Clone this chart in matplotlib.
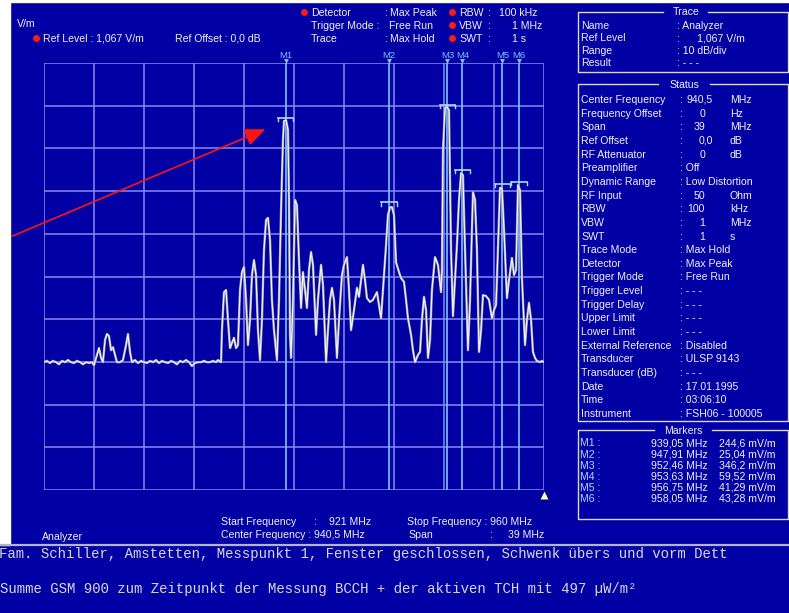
import numpy as np
import matplotlib
matplotlib.use("Agg")
import matplotlib.pyplot as plt
from matplotlib.patches import Rectangle

plt.rcParams['font.family'] = ['Liberation Sans', 'DejaVu Sans']

# spectrum trace, MHz / dB(V/m)
freq_mhz = [
    921.00, 921.23, 921.47, 921.70, 921.94, 922.17, 922.40, 922.64, 922.87, 923.11,
    923.34, 923.57, 923.81, 924.04, 924.28, 924.51, 924.74, 924.90, 925.13, 925.29,
    925.45, 925.60, 925.76, 925.91, 926.07, 926.23, 926.38, 926.54, 926.69, 926.93,
    927.16, 927.40, 927.55, 927.71, 927.86, 928.10, 928.33, 928.57, 928.80, 929.03,
    929.27, 929.50, 929.74, 929.97, 930.20, 930.44, 930.67, 930.91, 931.14, 931.37,
    931.61, 931.84, 932.08, 932.31, 932.54, 932.78, 933.01, 933.25, 933.48, 933.71,
    933.95, 934.18, 934.42, 934.57, 934.81, 934.88, 935.04, 935.20, 935.35, 935.51,
    935.66, 935.82, 935.98, 936.13, 936.29, 936.44, 936.60, 936.76, 936.91, 937.07,
    937.22, 937.38, 937.54, 937.69, 937.85, 938.00, 938.16, 938.32, 938.47, 938.63,
    938.78, 938.94, 939.10, 939.17, 939.33, 939.49, 939.64, 939.72, 939.88, 940.03,
    940.11, 940.19, 940.27, 940.42, 940.58, 940.73, 940.89, 941.05, 941.20, 941.36,
    941.51, 941.67, 941.83, 941.98, 942.22, 942.37, 942.61, 942.76, 943.00, 943.15,
    943.31, 943.46, 943.62, 943.85, 944.01, 944.24, 944.40, 944.63, 944.79, 944.95,
    945.18, 945.41, 945.57, 945.73, 945.88, 946.04, 946.19, 946.43, 946.66, 946.97,
    947.13, 947.29, 947.44, 947.68, 947.83, 947.99, 948.14, 948.30, 948.46, 948.69,
    948.85, 949.08, 949.24, 949.39, 949.63, 949.78, 949.94, 950.17, 950.33, 950.48,
    950.64, 950.80, 950.95, 951.11, 951.26, 951.50, 951.73, 951.97, 952.04, 952.12,
    952.28, 952.43, 952.59, 952.75, 952.90, 953.06, 953.21, 953.37, 953.53, 953.68,
    953.84, 954.07, 954.23, 954.46, 954.62, 954.77, 954.93, 955.09, 955.24, 955.48,
    955.71, 955.94, 956.10, 956.26, 956.41, 956.57, 956.72, 956.88, 957.11, 957.27,
    957.50, 957.66, 957.82, 957.97, 958.13, 958.28, 958.52, 958.67, 958.83, 958.99,
    959.14, 959.30, 959.45, 959.69, 959.84, 960.00,
]
level_dbv = [
    -69.5, -69.2, -69.7, -69.2, -69.5, -70.0, -69.2, -69.5, -69.0, -69.5,
    -69.7, -69.2, -69.5, -70.0, -69.5, -69.7, -69.5, -70.2, -67.8, -66.2,
    -68.5, -69.5, -64.3, -62.9, -63.4, -66.7, -66.0, -67.8, -69.5, -69.5,
    -69.0, -65.5, -62.9, -67.1, -69.5, -69.0, -69.7, -69.2, -69.5, -69.7,
    -69.2, -69.5, -69.0, -69.7, -69.2, -69.5, -69.7, -69.2, -69.5, -70.0,
    -69.2, -69.5, -69.0, -69.5, -70.4, -69.7, -69.5, -69.5, -69.2, -69.5,
    -69.5, -69.2, -69.5, -69.0, -69.5, -62.0, -53.1, -52.6, -59.6, -66.2,
    -65.0, -63.8, -66.2, -65.5, -52.6, -48.4, -47.2, -54.9, -65.5, -59.6,
    -49.1, -45.6, -49.1, -62.0, -69.0, -59.6, -43.2, -36.2, -35.7, -40.9,
    -54.9, -62.0, -66.7, -69.0, -54.9, -33.9, -17.5, -13.0, -12.8, -15.1,
    -31.5, -63.1, -68.5, -54.9, -31.5, -32.7, -45.6, -56.8, -48.4, -52.6,
    -56.8, -47.9, -43.7, -46.7, -63.1, -54.9, -46.7, -51.4, -69.5, -62.0,
    -54.9, -52.1, -54.9, -68.5, -59.6, -49.1, -46.7, -44.9, -52.6, -62.0,
    -57.3, -52.1, -54.2, -50.3, -46.7, -50.3, -54.5, -55.4, -54.9, -53.1,
    -56.1, -59.2, -52.6, -42.1, -35.0, -33.2, -33.2, -35.0, -46.1, -48.4,
    -49.8, -50.7, -54.9, -59.2, -63.1, -66.7, -69.5, -67.8, -67.1, -59.6,
    -54.2, -57.3, -68.5, -64.3, -52.6, -44.9, -46.7, -53.1, -47.9, -19.8,
    -10.0, -9.7, -10.5, -43.2, -58.7, -50.3, -42.1, -31.5, -25.2, -25.7,
    -43.2, -66.7, -54.9, -29.7, -31.5, -43.2, -67.1, -62.0, -53.8, -54.0,
    -54.9, -59.2, -57.3, -56.1, -43.2, -28.7, -28.7, -38.5, -54.5, -50.3,
    -45.1, -49.1, -47.9, -28.0, -29.2, -49.8, -65.5, -59.6, -55.6, -59.6,
    -67.1, -68.5, -69.2, -69.5, -69.2, -69.5,
]

marker_names = ["M1", "M2", "M3", "M4", "M5", "M6"]
marker_freq = [939.85, 947.91, 952.46, 953.63, 956.75, 958.05]
marker_freq_text = ["939,05 MHz", "947,91 MHz", "952,46 MHz", "953,63 MHz", "956,75 MHz", "958,05 MHz"]
marker_mvm = [244.6, 25.04, 346.2, 59.52, 41.29, 43.28]
marker_level_text = ["244,6 mV/m", "25,04 mV/m", "346,2 mV/m", "59,52 mV/m", "41,29 mV/m", "43,28 mV/m"]

ref_level_vm = 1.067
start_mhz, stop_mhz = 921.0, 960.0

trace_rows = [("Name", ": Analyzer"), ("Ref Level", ":      1,067 V/m"),
              ("Range", ": 10 dB/div"), ("Result", ": - - -")]
status_rows = [
    ("Center Frequency", "940,5", "MHz"), ("Frequency Offset", "0", "Hz"),
    ("Span", "39", "MHz"), ("Ref Offset", "0,0", "dB"), ("RF Attenuator", "0", "dB"),
    ("Preamplifier", ": Off", ""), ("Dynamic Range", ": Low Distortion", ""),
    ("RF Input", "50", "Ohm"), ("RBW", "100", "kHz"), ("VBW", "1", "MHz"),
    ("SWT", "1", "s"), ("Trace Mode", ": Max Hold", ""), ("Detector", ": Max Peak", ""),
    ("Trigger Mode", ": Free Run", ""), ("Trigger Level", ": - - -", ""),
    ("Trigger Delay", ": - - -", ""), ("Upper Limit", ": - - -", ""),
    ("Lower Limit", ": - - -", ""), ("External Reference", ": Disabled", ""),
    ("Transducer", ": ULSP 9143", ""), ("Transducer (dB)", ": - - -", ""),
    ("Date", ": 17.01.1995", ""), ("Time", ": 03:06:10", ""),
    ("Instrument", ": FSH06 - 100005", ""),
]

note_line1 = "Fam. Schiller, Amstetten, Messpunkt 1, Fenster geschlossen, Schwenk übers und vorm Dett"
note_line2 = "Summe GSM 900 zum Zeitpunkt der Messung BCCH + der aktiven TCH mit 497 µW/m²"

BG = "#0000a4"
GRID = "#8a8af0"
MKR = "#7cc4ff"
TXT = "#f0f0f8"
W, H = 789, 613


def main():
    fig = plt.figure(figsize=(W / 100, H / 100), dpi=100, facecolor=BG)

    # overlay in pixel coordinates for the instrument screen furniture
    ov = fig.add_axes([0, 0, 1, 1])
    ov.set_xlim(0, W)
    ov.set_ylim(H, 0)
    ov.axis("off")
    ov.add_patch(Rectangle((0, 0), 10, 545, color="white", zorder=0))
    ov.add_patch(Rectangle((0, 0), W, 1.8, color="white", zorder=0))

    fs = 7.6
    def t(x, y, s, **kw):
        # y is the visual middle of the capitals, place on baseline
        kw.setdefault("color", TXT)
        kw.setdefault("fontsize", fs)
        ov.text(x, y + 3.7, s, va="baseline", **kw)

    def dot(x, y):
        ov.plot(x, y, "o", color="#ff1a1a", ms=5, mec="none")

    # header
    t(17, 23, "V/m")
    dot(36, 38)
    t(43, 38, "Ref Level : 1,067 V/m")
    t(175, 38, "Ref Offset : 0,0 dB")
    dot(304, 12)
    t(311, 12, "Detector")
    t(385, 12, ":")
    t(390, 12, "Max Peak")
    t(311, 25, "Trigger Mode :")
    t(389, 25, "Free Run")
    t(311, 38, "Trace")
    t(385, 38, ":")
    t(390, 38, "Max Hold")
    for y, lab, val in [(12, "RBW", "100 kHz"), (25, "VBW", "1 MHz"), (38, "SWT", "1 s")]:
        dot(452, y)
        t(459, y, lab)
        t(488, y, ":")
        t(499 if val.startswith("100") else 512, y, val)

    # right hand panel
    box_c = "#d8d8e8"
    def box(top, bottom, title, cx):
        half = len(title) * 3.3 + 6
        ov.plot([cx + half, 788, 788, 578, 578, cx - half], [top, top, bottom, bottom, top, top],
                color=box_c, lw=1)
        t(cx, top, title, ha="center")

    box(11.5, 72, "Trace", 686)
    for i, (lab, val) in enumerate(trace_rows):
        y = 25 + 12.6 * i
        t(581, y, lab)
        t(677, y, val)

    box(84, 421, "Status", 684)
    for i, (lab, val, unit) in enumerate(status_rows):
        y = 99.3 + 13.65 * i
        t(581, y, lab)
        if val.startswith(":"):
            t(680, y, val)
        else:
            t(680, y, ":")
            t(713 if "," in val else 705, y, val, ha="right")
            t(730, y, unit)

    box(430, 519, "Markers", 683)
    for i in range(len(marker_names)):
        y = 442.7 + 11.1 * i
        t(580, y, marker_names[i] + " :", color="#a8dcff")
        t(708, y, marker_freq_text[i], ha="right")
        t(776, y, marker_level_text[i], ha="right")

    # footer
    t(42, 536, "Analyzer")
    t(221, 521, "Start Frequency")
    t(314, 521, ":")
    t(329, 521, "921 MHz")
    t(221, 534, "Center Frequency : 940,5 MHz")
    t(407, 521, "Stop Frequency : 960 MHz")
    t(408, 534, "Span")
    t(490, 534, ":")
    t(544, 534, "39 MHz", ha="right")
    ov.plot([0, W], [545, 545], color="#b4b4cc", lw=1.6)

    # typewriter comment lines
    mono = dict(family="Liberation Mono", fontsize=10.1, color="#d8d8e2")
    t(-1, 554, note_line1, **mono)
    t(0, 589, note_line2, **mono)

    # spectrum display
    ref_db = 20 * np.log10(ref_level_vm)
    ax = fig.add_axes([44 / W, 1 - 490 / H, 500 / W, 427 / H])
    ax.set_facecolor("none")
    ax.set_xlim(start_mhz, stop_mhz)
    ax.set_ylim(ref_db - 100, ref_db)
    for f in np.linspace(start_mhz, stop_mhz, 11):
        ax.axvline(f, color=GRID, lw=1.1, zorder=1)
    for k in range(11):
        ax.axhline(ref_db - 10 * k, color=GRID, lw=1.1, zorder=1)
    for s in ax.spines.values():
        s.set_visible(False)
    ax.set_xticks([])
    ax.set_yticks([])

    xt = ax.get_xaxis_transform()
    mk_db = 20 * np.log10(np.array(marker_mvm) / 1000.0)
    for name, f, lev in zip(marker_names, marker_freq, mk_db):
        ax.axvline(f, color=MKR, lw=1.2, zorder=2)
        ax.plot([f - 0.6, f + 0.6], [lev, lev], color="#a8dcff", lw=1.2, zorder=5)
        ax.plot([f - 0.6, f - 0.6], [lev, lev - 0.8], color="#a8dcff", lw=1, zorder=5)
        ax.plot([f + 0.6, f + 0.6], [lev, lev - 0.8], color="#a8dcff", lw=1, zorder=5)
        ax.text(f, 1 + 8 / 427, name, transform=xt, ha="center", va="center",
                fontsize=6.8, color=MKR, clip_on=False)
        ax.plot(f, 1 + 2.5 / 427, marker="v", ms=3.5, color=MKR, mec="none",
                transform=xt, clip_on=False)

    ax.plot(freq_mhz, level_dbv, color="#9c9cae", lw=1.7, zorder=3)
    ax.plot(freq_mhz, level_dbv, color="#f6f6f6", lw=0.8, zorder=4)

    ax.plot(stop_mhz, -4.5 / 427, marker="^", ms=6, color="#ffffa0", mec="none",
            transform=xt, clip_on=False)

    ax.annotate("", xy=(938.47, -14.7), xytext=(918.35, -40.2),
                arrowprops=dict(arrowstyle="-|>,head_length=0.7,head_width=0.3",
                                color="#ff1414", lw=1.2, mutation_scale=18),
                annotation_clip=False, zorder=6)

    fig.savefig("out.png", dpi=100, facecolor=BG)


if __name__ == "__main__":
    main()
